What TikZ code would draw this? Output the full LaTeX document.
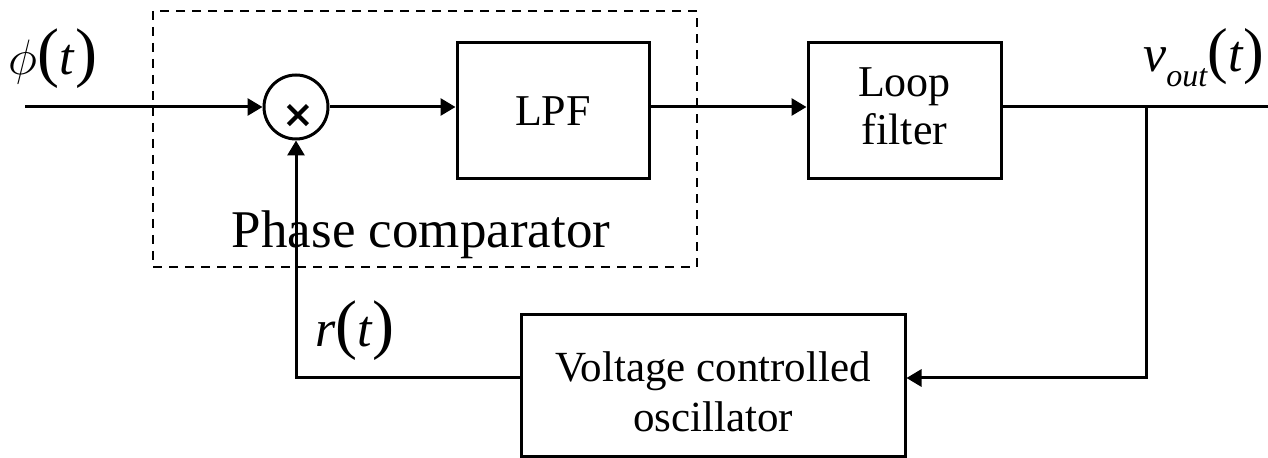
\documentclass[tikz,border=0pt]{standalone}
\usepackage{fontspec}
\setmainfont{Liberation Serif}
\newfontfamily\symfont{DejaVu Sans}
\usetikzlibrary{arrows.meta}
\newcommand{\lt}{\fontsize{26}{26}\selectfont}
\newcommand{\pa}[1]{{\fontsize{33}{33}\selectfont#1}}
\begin{document}
\begin{tikzpicture}[x=0.5pt,y=-0.5pt,
  ln/.style={line width=1.5pt},
  arr/.style={ln,-{Triangle[length=7.5pt,width=8.5pt]}},
  blk/.style={draw,line width=1.5pt,inner sep=0pt,align=center},
  lbl/.style={inner sep=0pt}]
\useasboundingbox (0,0) rectangle (1268,458);
% dashed phase comparator box
\draw[line width=1.4pt,dash pattern=on 4.5pt off 3.5pt] (153,11) rectangle (697,267);
% blocks
\node[draw,circle,line width=1.5pt,minimum size=32pt,inner sep=0pt] (mult) at (296,107) {};
\node[lbl,font=\symfont\bfseries\fontsize{19}{19}\selectfont] (times) at (298,116) {×};
\node[blk,minimum width=96pt,minimum height=68pt,font=\fontsize{22}{24}\selectfont] (lpf) at (553,111) {LPF};
\node[blk,minimum width=96.5pt,minimum height=68pt,font=\fontsize{22}{24}\selectfont] (lf) at (904.5,111)
  {\begin{tabular}{@{}c@{}}Loop\\filter\end{tabular}};
\node[blk,minimum width=192pt,minimum height=71pt,font=\fontsize{21.5}{25}\selectfont] (vco) at (713,386)
  {\raisebox{-5.5pt}[\height][\depth]{\begin{tabular}{@{}c@{}}Voltage controlled\\oscillator\end{tabular}}};
% labels
\node[lbl,anchor=base] (phi) at (53,75) {\lt{\fontsize{30}{30}\selectfont$\phi$}\pa{(}\textit{t}\pa{)}};
\node[lbl,anchor=base east] (vout) at (1265,72) {\lt\textit{v}\raisebox{-7.5pt}{\fontsize{16}{16}\selectfont\textit{out}}{\fontsize{31}{31}\selectfont(}\textit{t}{\fontsize{31}{31}\selectfont)}};
\node[lbl,anchor=base] (rt) at (355,347) {\lt\textit{r}\pa{(}\textit{t}\pa{)}};
\node[lbl,anchor=base] (pc) at (421,248) {\fontsize{26.5}{28}\selectfont Phase comparator};
% connectors
\coordinate (in) at (25,107);
\coordinate (out) at (1268,107);
\coordinate (br) at (1146,107);
\coordinate (brd) at (1146,378);
\draw[arr] (in) -- (mult.west);
\draw[arr] (mult.east) -- (lpf.west |- mult.east);
\draw[arr] (lpf.east |- mult.east) -- (lf.west |- mult.east);
\draw[ln] (lf.east |- mult.east) -- (out);
\draw[arr] (br) -- (brd) -- (vco.east |- brd);
\draw[arr] (vco.west |- brd) -| (mult.south);
\end{tikzpicture}
\end{document}
